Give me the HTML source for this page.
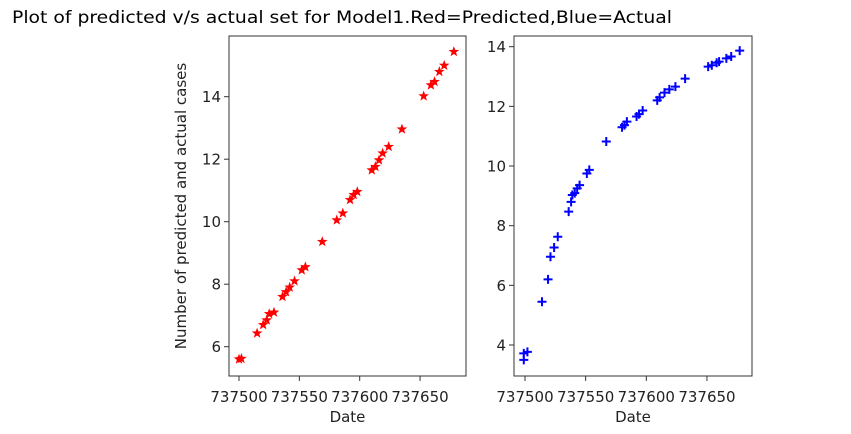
<!DOCTYPE html>
<html><head><meta charset="utf-8">
<style>
html,body{margin:0;padding:0;background:#fff;}
svg{display:block;font-family:"DejaVu Sans","Liberation Sans",sans-serif;}
</style></head>
<body>
<svg id="chart" width="851" height="434" viewBox="0 0 851 434" xmlns="http://www.w3.org/2000/svg">
<text x="12" y="23" font-size="17" textLength="660" lengthAdjust="spacingAndGlyphs" fill="#000">Plot of predicted v/s actual set for Model1.Red=Predicted,Blue=Actual</text>
<g id="left"></g>
<g id="right"></g>
</svg>
<script>
const xTicks = [737500, 737550, 737600, 737650];
const leftYTicks = [6, 8, 10, 12, 14];
const rightYTicks = [4, 6, 8, 10, 12, 14];
const predDates = [737500,737502,737515,737520,737523,737525,737529,737536,737539,737542,737546,737552,737555,737569,737581,737586,737592,737595,737598,737610,737613,737616,737619,737624,737635,737653,737659,737662,737666,737670,737678];
const predValues = [5.6,5.62,6.43,6.7,6.85,7.05,7.1,7.6,7.75,7.9,8.1,8.45,8.55,9.36,10.05,10.27,10.7,10.86,10.96,11.65,11.76,11.97,12.19,12.4,12.96,14.02,14.37,14.48,14.8,15.0,15.44];
const actDates = [737499,737499,737502,737514,737519,737521,737524,737527,737536,737538,737539,737541,737543,737545,737551,737553,737567,737580,737582,737584,737592,737594,737597,737609,737611,737615,737619,737624,737632,737651,737654,737658,737660,737666,737670,737677];
const actValues = [3.5,3.72,3.77,5.45,6.2,6.96,7.27,7.63,8.47,8.8,9.03,9.09,9.25,9.36,9.75,9.87,10.82,11.3,11.37,11.49,11.66,11.74,11.86,12.2,12.3,12.46,12.57,12.66,12.93,13.33,13.38,13.46,13.5,13.61,13.67,13.87];

const NS = "http://www.w3.org/2000/svg";
function mk(parent, tag, attrs){const e=document.createElementNS(NS,tag);for(const k in attrs)e.setAttribute(k,attrs[k]);parent.appendChild(e);return e;}

function drawPanel(g, box, xs, ys, yTicks, dates, values, marker, color, ylabel, prefix){
  const xScale = d => xs.px0 + (d - xs.d0) * xs.k;
  const yScale = v => ys.px0 - (v - ys.v0) * ys.k;
  for (let i=0;i<dates.length;i++){
    const cx = xScale(dates[i]), cy = yScale(values[i]);
    let m;
    if (marker==='star'){
      let pts=[];
      for(let j=0;j<10;j++){const r=j%2?2.3:5.6;const a=-Math.PI/2+j*Math.PI/5;pts.push((cx+r*Math.cos(a)).toFixed(2)+','+(cy+r*Math.sin(a)).toFixed(2));}
      m = mk(g,'polygon',{points:pts.join(' '),fill:color});
    } else {
      m = mk(g,'path',{d:`M${cx-4.5},${cy}H${cx+4.5}M${cx},${cy-4.5}V${cy+4.5}`,stroke:color,'stroke-width':2,fill:'none'});
    }
    
    
  }
  const frame = mk(g,'rect',{x:box.x,y:box.y,width:box.w,height:box.h,fill:'none',stroke:'#333','stroke-width':1});
  
  
  xTicks.forEach(t=>{
    const x=xScale(t);
    mk(g,'line',{x1:x,x2:x,y1:box.y+box.h,y2:box.y+box.h+5,stroke:'#333'});
    const tx=mk(g,'text',{x:x,y:box.y+box.h+26,'font-size':15,'text-anchor':'middle',fill:'#222'});
    tx.textContent=t;
    
    
  });
  yTicks.forEach(t=>{
    const y=yScale(t);
    mk(g,'line',{x1:box.x-5,x2:box.x,y1:y,y2:y,stroke:'#333'});
    const tx=mk(g,'text',{x:box.x-8,y:y+5.5,'font-size':15,'text-anchor':'end',fill:'#222'});
    tx.textContent=t;
    
    
  });
  const xl=mk(g,'text',{x:box.x+box.w/2,y:box.y+box.h+46,'font-size':15,'text-anchor':'middle',fill:'#222'});
  xl.textContent='Date';
  
  
  if (ylabel){
    const cy=box.y+box.h/2;
    const yl=mk(g,'text',{x:0,y:0,'font-size':15,'text-anchor':'middle',fill:'#222',transform:`translate(186,${cy}) rotate(-90)`});
    yl.textContent=ylabel;
    
    
  }
}
drawPanel(document.getElementById('left'), {x:229,y:36,w:237,h:340},
  {px0:239,d0:737500,k:1.207}, {px0:346.7,v0:6,k:31.25}, leftYTicks, predDates, predValues, 'star', '#ff0000',
  'Number of predicted and actual cases','predicted');
drawPanel(document.getElementById('right'), {x:514,y:36,w:238,h:340},
  {px0:525,d0:737500,k:1.213}, {px0:345,v0:4,k:29.83}, rightYTicks, actDates, actValues, 'plus', '#0000ff',
  null,'actual');
</script>
</body></html>
